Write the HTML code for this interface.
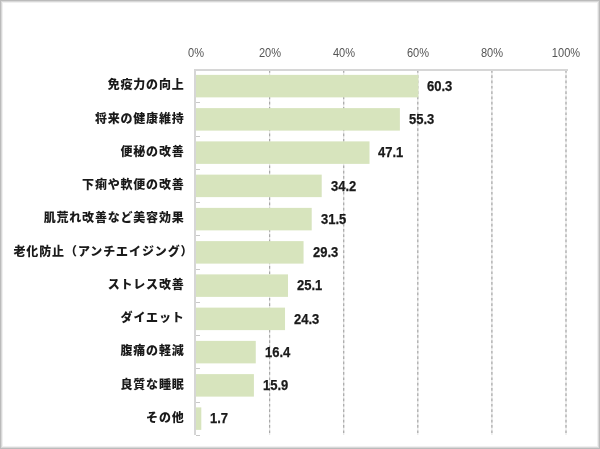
<!DOCTYPE html>
<html lang="ja"><head><meta charset="utf-8"><title>chart</title>
<style>
html,body{margin:0;padding:0;background:#fff;}
#f{position:relative;width:598px;height:447px;border:1px solid #bbbbbb;box-shadow:inset 0 0 0 1px #d8d8d8, inset 0 0 0 2px #f0f0f0;overflow:hidden;background:#fff;}
svg{position:absolute;left:-1px;top:-1px;}
.c{position:absolute;right:414.5px;white-space:nowrap;font-family:"Liberation Sans","Noto Sans CJK JP",sans-serif;font-weight:900;font-size:12.0px;color:#1a1a1a;filter:blur(0.45px);line-height:1;letter-spacing:0.8px;}
.v{position:absolute;white-space:nowrap;font-family:"Liberation Sans",sans-serif;font-weight:bold;font-size:14.0px;color:#1a1a1a;filter:blur(0.45px);line-height:1;transform:scaleX(0.93);transform-origin:0 50%;-webkit-text-stroke:0.25px #1a1a1a;}
.a{position:absolute;width:40px;text-align:center;white-space:nowrap;font-family:"Liberation Sans",sans-serif;font-size:12px;color:#555;filter:blur(0.45px);line-height:1;transform:scaleX(0.92);}
</style></head><body><div id="f">
<svg width="600" height="449" viewBox="0 0 600 449">
<line x1="269.60" y1="70" x2="269.60" y2="435" stroke="#e6e6e6" stroke-width="1.2"/>
<line x1="269.60" y1="70" x2="269.60" y2="435" stroke="#a8a8a8" stroke-width="1.2" stroke-dasharray="2.7 2.6"/>
<line x1="343.70" y1="70" x2="343.70" y2="435" stroke="#e6e6e6" stroke-width="1.2"/>
<line x1="343.70" y1="70" x2="343.70" y2="435" stroke="#a8a8a8" stroke-width="1.2" stroke-dasharray="2.7 2.6"/>
<line x1="417.80" y1="70" x2="417.80" y2="435" stroke="#e6e6e6" stroke-width="1.2"/>
<line x1="417.80" y1="70" x2="417.80" y2="435" stroke="#a8a8a8" stroke-width="1.2" stroke-dasharray="2.7 2.6"/>
<line x1="491.90" y1="70" x2="491.90" y2="435" stroke="#e6e6e6" stroke-width="1.2"/>
<line x1="491.90" y1="70" x2="491.90" y2="435" stroke="#a8a8a8" stroke-width="1.2" stroke-dasharray="2.7 2.6"/>
<line x1="566.00" y1="70" x2="566.00" y2="435" stroke="#e6e6e6" stroke-width="1.2"/>
<line x1="566.00" y1="70" x2="566.00" y2="435" stroke="#a8a8a8" stroke-width="1.2" stroke-dasharray="2.7 2.6"/>
<rect x="196.0" y="74.88" width="222.41" height="22.5" fill="#d7e4bd"/>
<rect x="196.0" y="108.12" width="203.89" height="22.5" fill="#d7e4bd"/>
<rect x="196.0" y="141.38" width="173.51" height="22.5" fill="#d7e4bd"/>
<rect x="196.0" y="174.62" width="125.71" height="22.5" fill="#d7e4bd"/>
<rect x="196.0" y="207.88" width="115.71" height="22.5" fill="#d7e4bd"/>
<rect x="196.0" y="241.12" width="107.56" height="22.5" fill="#d7e4bd"/>
<rect x="196.0" y="274.38" width="92.00" height="22.5" fill="#d7e4bd"/>
<rect x="196.0" y="307.62" width="89.03" height="22.5" fill="#d7e4bd"/>
<rect x="196.0" y="340.88" width="59.76" height="22.5" fill="#d7e4bd"/>
<rect x="196.0" y="374.12" width="57.91" height="22.5" fill="#d7e4bd"/>
<rect x="196.0" y="407.38" width="5.30" height="22.5" fill="#d7e4bd"/>
<rect x="194" y="69" width="374" height="2" fill="#d6d6d6"/>
<rect x="194" y="69" width="2" height="366" fill="#d6d6d6"/>
<rect x="196" y="102" width="4" height="1" fill="#c8c8c8"/>
<rect x="196" y="136" width="4" height="1" fill="#c8c8c8"/>
<rect x="196" y="169" width="4" height="1" fill="#c8c8c8"/>
<rect x="196" y="202" width="4" height="1" fill="#c8c8c8"/>
<rect x="196" y="235" width="4" height="1" fill="#c8c8c8"/>
<rect x="196" y="269" width="4" height="1" fill="#c8c8c8"/>
<rect x="196" y="302" width="4" height="1" fill="#c8c8c8"/>
<rect x="196" y="335" width="4" height="1" fill="#c8c8c8"/>
<rect x="196" y="368" width="4" height="1" fill="#c8c8c8"/>
<rect x="196" y="402" width="4" height="1" fill="#c8c8c8"/>
<rect x="196" y="435" width="4" height="1" fill="#c8c8c8"/>
</svg>
<div class="a" style="left:174.5px;top:46.3px">0%</div>
<div class="a" style="left:248.6px;top:46.3px">20%</div>
<div class="a" style="left:322.7px;top:46.3px">40%</div>
<div class="a" style="left:396.8px;top:46.3px">60%</div>
<div class="a" style="left:470.9px;top:46.3px">80%</div>
<div class="a" style="left:545.0px;top:46.3px">100%</div>
<div class="c" style="top:78.3px">免疫力の向上</div>
<div class="v" style="left:426.3px;top:77.7px">60.3</div>
<div class="c" style="top:111.6px">将来の健康維持</div>
<div class="v" style="left:407.8px;top:111.0px">55.3</div>
<div class="c" style="top:144.8px">便秘の改善</div>
<div class="v" style="left:377.4px;top:144.2px">47.1</div>
<div class="c" style="top:178.1px">下痢や軟便の改善</div>
<div class="v" style="left:329.6px;top:177.5px">34.2</div>
<div class="c" style="top:211.3px">肌荒れ改善など美容効果</div>
<div class="v" style="left:319.6px;top:210.7px">31.5</div>
<div class="c" style="right:405.5px;letter-spacing:0.9px;top:244.6px">老化防止（アンチエイジング）</div>
<div class="v" style="left:311.5px;top:244.0px">29.3</div>
<div class="c" style="top:277.8px">ストレス改善</div>
<div class="v" style="left:295.9px;top:277.2px">25.1</div>
<div class="c" style="top:311.1px">ダイエット</div>
<div class="v" style="left:292.9px;top:310.5px">24.3</div>
<div class="c" style="top:344.3px">腹痛の軽減</div>
<div class="v" style="left:263.7px;top:343.7px">16.4</div>
<div class="c" style="top:377.6px">良質な睡眠</div>
<div class="v" style="left:261.8px;top:377.0px">15.9</div>
<div class="c" style="top:410.8px">その他</div>
<div class="v" style="left:209.2px;top:410.2px">1.7</div>
</div></body></html>
